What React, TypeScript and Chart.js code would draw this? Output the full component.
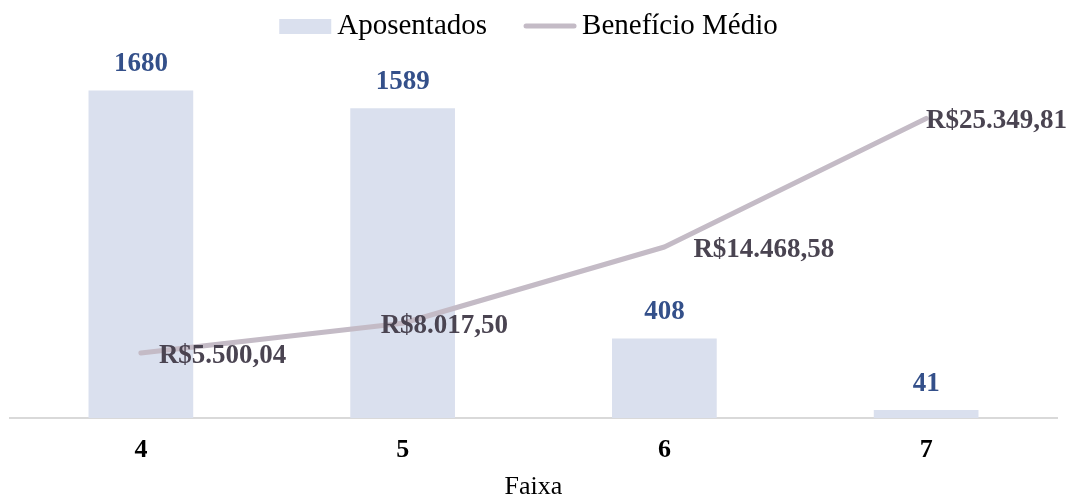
import React, { useEffect, useRef } from 'react';
import { Chart, registerables } from 'chart.js';

Chart.register(...registerables);

const categories = ['4', '5', '6', '7'];
const aposentados = [1680, 1589, 408, 41];
const beneficioMedio = [5500.04, 8017.5, 14468.58, 25349.81];
const seriesNames = ['Aposentados', 'Benefício Médio'];
const axisTitle = 'Faixa';

const FONT = "'Liberation Serif', 'Times New Roman', serif";
const BAR_COLOR = '#dae0ee';
const LINE_COLOR = '#c4bbc6';
const BAR_LABEL_COLOR = '#34508a';
const LINE_LABEL_COLOR = '#4a4451';

function fmtBRL(v: number): string {
  const fixed = v.toFixed(2);
  const [intPart, dec] = fixed.split('.');
  const withDots = intPart.replace(/\B(?=(\d{3})+(?!\d))/g, '.');
  return 'R$' + withDots + ',' + dec;
}

const lineLabelOffsets = [18, -22, 29, 18];

const labelsPlugin = {
  id: 'valueLabels',
  afterDatasetsDraw(chart: any) {
    const ctx = chart.ctx;
    ctx.save();
    const barMeta = chart.getDatasetMeta(0);
    ctx.font = `bold 27px ${FONT}`;
    ctx.fillStyle = BAR_LABEL_COLOR;
    ctx.textAlign = 'center';
    ctx.textBaseline = 'middle';
    barMeta.data.forEach((el: any, i: number) => {
      ctx.fillText(String(chart.data.datasets[0].data[i]), el.x, el.y - 26);
    });
    const lineMeta = chart.getDatasetMeta(1);
    ctx.fillStyle = LINE_LABEL_COLOR;
    ctx.textAlign = 'left';
    lineMeta.data.forEach((el: any, i: number) => {
      const txt = fmtBRL(chart.data.datasets[1].data[i]);
      const w = ctx.measureText(txt).width;
      let x = el.x + lineLabelOffsets[i];
      if (x + w > chart.width - 3) x = chart.width - 3 - w;
      ctx.fillText(txt, x, el.y + 3);
    });
    ctx.restore();
  },
};

const legendPlugin = {
  id: 'customLegend',
  afterDraw(chart: any) {
    const ctx = chart.ctx;
    ctx.save();
    ctx.font = `29px ${FONT}`;
    ctx.textBaseline = 'middle';
    ctx.textAlign = 'left';
    const swatchW = 52;
    const gapText = 6;
    const gapItem = 37;
    const items = chart.data.datasets.map((ds: any) => ({
      label: ds.label as string,
      type: ds.type as string,
      w: ctx.measureText(ds.label).width,
    }));
    const total =
      items.reduce((s: number, it: any) => s + swatchW + gapText + it.w, 0) +
      gapItem * (items.length - 1);
    let x = (chart.chartArea.left + chart.chartArea.right) / 2 - total / 2 - 5;
    const y = 26;
    items.forEach((it: any) => {
      if (it.type === 'line') {
        ctx.strokeStyle = LINE_COLOR;
        ctx.lineWidth = 5;
        ctx.lineCap = 'round';
        ctx.beginPath();
        ctx.moveTo(x + 2, y);
        ctx.lineTo(x + swatchW - 2, y);
        ctx.stroke();
      } else {
        ctx.fillStyle = BAR_COLOR;
        ctx.fillRect(x, y - 7, swatchW, 15);
      }
      ctx.fillStyle = '#000000';
      ctx.fillText(it.label, x + swatchW + gapText, y);
      x += swatchW + gapText + it.w + gapItem;
    });
    ctx.restore();
  },
};

export default function App() {
  const canvasRef = useRef<HTMLCanvasElement | null>(null);

  useEffect(() => {
    if (!canvasRef.current) return;
    const chart = new Chart(canvasRef.current, {
      type: 'bar',
      data: {
        labels: categories,
        datasets: [
          {
            type: 'bar',
            label: seriesNames[0],
            data: aposentados,
            backgroundColor: BAR_COLOR,
            borderWidth: 0,
            barPercentage: 0.4,
            categoryPercentage: 1,
            yAxisID: 'y',
            order: 2,
          } as any,
          {
            type: 'line',
            label: seriesNames[1],
            data: beneficioMedio,
            borderColor: LINE_COLOR,
            backgroundColor: LINE_COLOR,
            borderWidth: 5,
            borderCapStyle: 'round',
            borderJoinStyle: 'round',
            pointRadius: 0,
            tension: 0,
            yAxisID: 'y2',
            order: 1,
          } as any,
        ],
      },
      options: {
        responsive: true,
        maintainAspectRatio: false,
        animation: false,
        layout: { padding: { left: 10, right: 13, top: 67, bottom: 0 } },
        plugins: {
          legend: { display: false },
          tooltip: { enabled: false },
        },
        scales: {
          x: {
            grid: { display: false, drawTicks: false },
            border: { display: true, color: '#d9d9d9', width: 2 },
            ticks: {
              color: '#000000',
              font: { family: FONT, size: 26, weight: 'bold' },
              padding: 17,
            },
            title: {
              display: true,
              text: axisTitle,
              color: '#000000',
              font: { family: FONT, size: 26, lineHeight: 1 },
              padding: { top: 0, bottom: 0 },
            },
            afterFit(scale: any) {
              scale.height = 82;
            },
          },
          y: { display: false, min: 0, max: 1800 },
          y2: { display: false, min: 0, max: 29700, position: 'right' },
        },
      } as any,
      plugins: [labelsPlugin, legendPlugin],
    });
    return () => chart.destroy();
  }, []);

  return (
    <div style={{ position: 'absolute', left: 0, top: 0, width: 1070, height: 500, background: '#ffffff' }}>
      <canvas ref={canvasRef} />
    </div>
  );
}
